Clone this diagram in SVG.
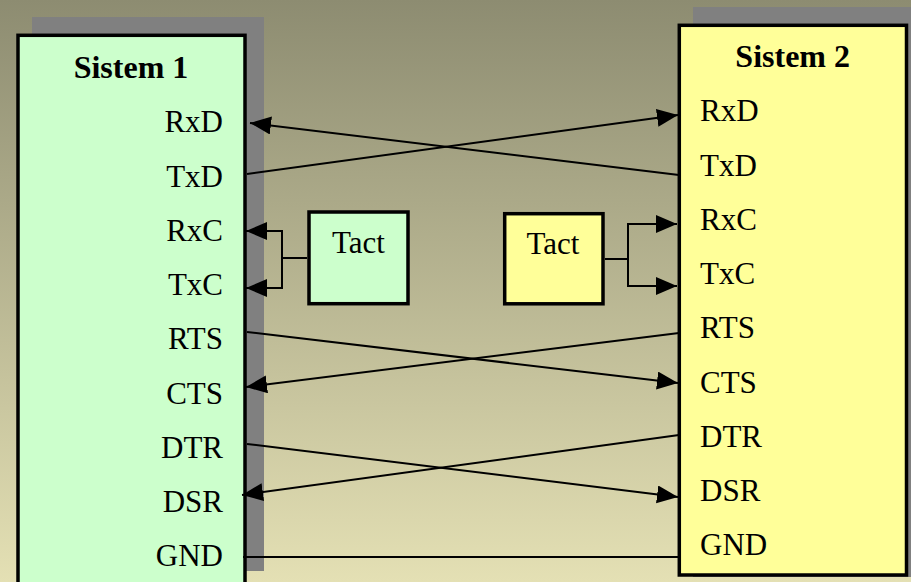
<svg xmlns="http://www.w3.org/2000/svg" width="911" height="582" viewBox="0 0 911 582">
  <defs>
    <linearGradient id="bg" x1="0" y1="0" x2="0" y2="1">
      <stop offset="0" stop-color="#8d8c71"/>
      <stop offset="1" stop-color="#e4e0b4"/>
    </linearGradient>
    <marker id="arrow" markerUnits="userSpaceOnUse" markerWidth="24" markerHeight="20" refX="21" refY="9" orient="auto">
      <path d="M0,0 L21,9 L0,18 z" fill="#000"/>
    </marker>
    <style>
      .shadow { fill: #808080; }
      .box { stroke: #000; stroke-width: 3.5; }
      .green { fill: #ccffcc; }
      .yellow { fill: #ffff99; }
      .title { font-family: "Liberation Serif", "Times New Roman", serif; font-weight: bold; font-size: 32px; fill: #000; text-anchor: middle; }
      .lbl { font-family: "Liberation Serif", "Times New Roman", serif; font-size: 31px; fill: #000; }
      .lblL { text-anchor: end; }
      .lblR { text-anchor: start; }
      .tact { text-anchor: middle; }
      .wire { fill: none; stroke: #000; stroke-width: 2; }
      .arr { marker-end: url(#arrow); }
    </style>
  </defs>

  <rect x="0" y="0" width="911" height="582" fill="url(#bg)"/>

  <!-- System 1 -->
  <g id="sistem1">
    <rect class="shadow" x="32" y="17" width="232" height="554"/>
    <rect class="box green" x="18" y="35.3" width="227" height="560"/>
    <text class="title" x="131" y="78">Sistem 1</text>
    <text class="lbl lblL" x="223" y="132">RxD</text>
    <text class="lbl lblL" x="223" y="186.5">TxD</text>
    <text class="lbl lblL" x="223" y="241">RxC</text>
    <text class="lbl lblL" x="223" y="295">TxC</text>
    <text class="lbl lblL" x="223" y="349">RTS</text>
    <text class="lbl lblL" x="223" y="403.5">CTS</text>
    <text class="lbl lblL" x="223" y="457.5">DTR</text>
    <text class="lbl lblL" x="223" y="512">DSR</text>
    <text class="lbl lblL" x="223" y="566">GND</text>
  </g>

  <!-- System 2 -->
  <g id="sistem2">
    <rect class="shadow" x="693" y="7" width="230" height="570"/>
    <rect class="box yellow" x="679.3" y="25.3" width="227.2" height="549.7"/>
    <text class="title" x="792.7" y="67">Sistem 2</text>
    <text class="lbl lblR" x="700" y="121">RxD</text>
    <text class="lbl lblR" x="700" y="175.5">TxD</text>
    <text class="lbl lblR" x="700" y="230">RxC</text>
    <text class="lbl lblR" x="700" y="284">TxC</text>
    <text class="lbl lblR" x="700" y="338">RTS</text>
    <text class="lbl lblR" x="700" y="392.5">CTS</text>
    <text class="lbl lblR" x="700" y="446.5">DTR</text>
    <text class="lbl lblR" x="700" y="501">DSR</text>
    <text class="lbl lblR" x="700" y="555">GND</text>
  </g>

  <!-- Clock generators -->
  <g id="tact1">
    <rect class="box green" x="309" y="212" width="99" height="91.7"/>
    <text class="lbl tact" x="358.5" y="253">Tact</text>
  </g>
  <g id="tact2">
    <rect class="box yellow" x="504.7" y="213.7" width="98.3" height="90.1"/>
    <text class="lbl tact" x="553" y="254">Tact</text>
  </g>

  <!-- Signal lines -->
  <g id="connectors">
    <line class="wire arr" x1="247" y1="174" x2="678" y2="115"/>
    <line class="wire arr" x1="679" y1="175" x2="250" y2="123"/>

    <path class="wire" d="M307,258 H282 M282,231 V288"/>
    <line class="wire arr" x1="283" y1="231" x2="246" y2="231"/>
    <line class="wire arr" x1="283" y1="288" x2="246" y2="288"/>

    <path class="wire" d="M605,259 H628 M628,224 V286"/>
    <line class="wire arr" x1="627" y1="224" x2="677" y2="224"/>
    <line class="wire arr" x1="627" y1="286" x2="677" y2="286"/>

    <line class="wire arr" x1="247" y1="332" x2="678" y2="383"/>
    <line class="wire arr" x1="679" y1="333" x2="246" y2="387"/>

    <line class="wire arr" x1="247" y1="444" x2="678" y2="497"/>
    <line class="wire arr" x1="679" y1="435" x2="242" y2="495"/>

    <line class="wire" x1="243" y1="557" x2="679" y2="557"/>
  </g>
</svg>
